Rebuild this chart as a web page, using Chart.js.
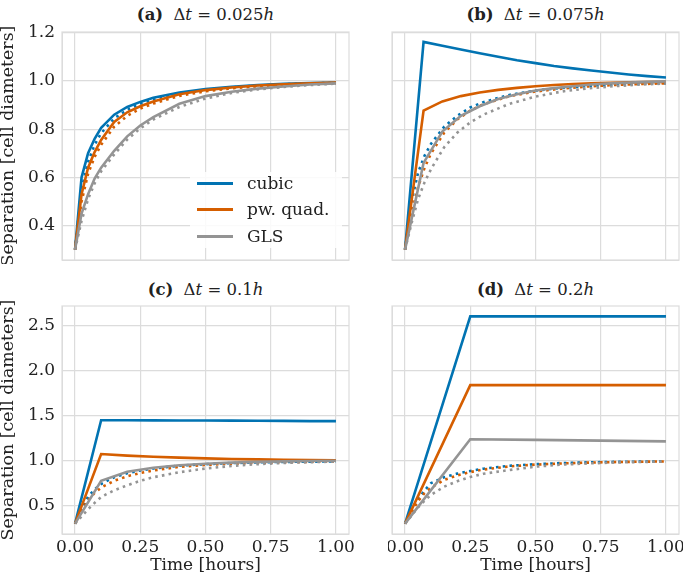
<!DOCTYPE html>
<html lang="en">
<head>
<meta charset="UTF-8">
<title>Separation vs time</title>
<script src="https://cdn.jsdelivr.net/npm/chart.js"></script>
<style>
  body { margin: 0; background: #fff; width: 685px; height: 584px; position: relative; overflow: hidden;
         font-family: 'DejaVu Serif', serif; color: #222; }
  canvas { position: absolute; }
  .ptitle { position: absolute; width: 287px; text-align: center; font-size: 16.5px; line-height: 20px; white-space: nowrap; }
  .ptitle b { margin-right: 5px; }
  .legend { position: absolute; left: 190px; top: 172px; width: 152px; height: 76px;
            background: rgba(255,255,255,0.85); border-radius: 4px; font-size: 17px; }
  .legend .row { position: absolute; left: 7px; height: 20px; line-height: 20px; }
  .legend .sw { position: absolute; left: 0; top: 9px; width: 36px; height: 3px; }
  .legend .lb { position: absolute; left: 50px; top: 0; white-space: nowrap; }
</style>
</head>
<body>
<div class="ptitle" style="left:62px; top:5px;"><b>(a)</b> Δ<i>t</i> = 0.025<i>h</i></div>
<div class="ptitle" style="left:392px; top:5px;"><b>(b)</b> Δ<i>t</i> = 0.075<i>h</i></div>
<div class="ptitle" style="left:62px; top:280px;"><b>(c)</b> Δ<i>t</i> = 0.1<i>h</i></div>
<div class="ptitle" style="left:392px; top:280px;"><b>(d)</b> Δ<i>t</i> = 0.2<i>h</i></div>

<canvas id="chartA" width="352" height="246" style="left:0; top:18px;"></canvas>
<canvas id="chartB" width="295" height="236" style="left:388px; top:28px;"></canvas>
<canvas id="chartC" width="362" height="292" style="left:0; top:292px;"></canvas>
<canvas id="chartD" width="295" height="282" style="left:388px; top:302px;"></canvas>

<div class="legend">
  <div class="row" style="top:1px;"><div class="sw" style="background:#0173B2"></div><div class="lb">cubic</div></div>
  <div class="row" style="top:27px;"><div class="sw" style="background:#D55E00"></div><div class="lb">pw. quad.</div></div>
  <div class="row" style="top:54px;"><div class="sw" style="background:#949494"></div><div class="lb">GLS</div></div>
</div>

<script>
// tick labels
const xTicks = [0, 0.25, 0.5, 0.75, 1.0];
const yTicksTop = [0.4, 0.6, 0.8, 1.0, 1.2];
const yTicksBottom = [0.5, 1.0, 1.5, 2.0, 2.5];

// time grids
const tFine = [0, 0.025, 0.05, 0.075, 0.1, 0.15, 0.2, 0.25, 0.3, 0.4, 0.5, 0.6, 0.7, 0.8, 0.9, 1.0];
const tB = [0, 0.071, 0.143, 0.214, 0.286, 0.357, 0.429, 0.5, 0.571, 0.643, 0.714, 0.786, 0.857, 0.929, 1.0];
const tC = [0, 0.1, 0.2, 0.3, 0.4, 0.5, 0.6, 0.7, 0.8, 0.9, 1.0];
const tD = [0, 0.25, 0.5, 0.75, 1.0];

// (a) dt = 0.025h
const aCubic    = [0.3, 0.6, 0.70, 0.76, 0.805, 0.86, 0.892, 0.913, 0.93, 0.952, 0.966, 0.976, 0.983, 0.988, 0.991, 0.993];
const aQuad     = [0.3, 0.53, 0.64, 0.705, 0.755, 0.83, 0.87, 0.895, 0.915, 0.945, 0.962, 0.973, 0.981, 0.986, 0.99, 0.993];
const aGls      = [0.3, 0.45, 0.53, 0.595, 0.64, 0.71, 0.77, 0.815, 0.85, 0.905, 0.937, 0.955, 0.968, 0.977, 0.985, 0.99];
const aCubicDot = [0.3, 0.55, 0.665, 0.735, 0.783, 0.845, 0.88, 0.905, 0.922, 0.947, 0.962, 0.973, 0.981, 0.986, 0.99, 0.992];
const aQuadDot  = [0.3, 0.5, 0.615, 0.685, 0.735, 0.81, 0.855, 0.885, 0.906, 0.938, 0.957, 0.969, 0.978, 0.984, 0.988, 0.991];
const aGlsDot   = [0.3, 0.42, 0.51, 0.575, 0.625, 0.695, 0.757, 0.803, 0.84, 0.892, 0.927, 0.95, 0.965, 0.975, 0.983, 0.989];

// (b) dt = 0.075h
const bCubic    = [0.3, 1.162, 1.146, 1.13, 1.115, 1.1, 1.086, 1.074, 1.062, 1.052, 1.043, 1.035, 1.027, 1.02, 1.014];
const bQuad     = [0.3, 0.877, 0.915, 0.937, 0.952, 0.963, 0.971, 0.978, 0.983, 0.987, 0.99, 0.992, 0.994, 0.995, 0.996];
const bGls      = [0.3, 0.66, 0.79, 0.855, 0.895, 0.925, 0.945, 0.96, 0.97, 0.978, 0.985, 0.99, 0.993, 0.996, 0.998];
const bCubicDot = [0.3, 0.5, 0.62, 0.69, 0.74, 0.81, 0.855, 0.89, 0.912, 0.942, 0.96, 0.971, 0.979, 0.985, 0.988, 0.99];
const bQuadDot  = [0.3, 0.45, 0.56, 0.64, 0.7, 0.785, 0.84, 0.877, 0.903, 0.937, 0.956, 0.968, 0.977, 0.983, 0.987, 0.99];
const bGlsDot   = [0.3, 0.41, 0.51, 0.58, 0.635, 0.725, 0.785, 0.828, 0.86, 0.905, 0.935, 0.956, 0.969, 0.978, 0.985, 0.989];

// (c) dt = 0.1h
const cCubic    = [0.3, 1.448, 1.447, 1.446, 1.445, 1.444, 1.443, 1.441, 1.44, 1.438, 1.437];
const cQuad     = [0.3, 1.072, 1.055, 1.042, 1.032, 1.024, 1.018, 1.013, 1.009, 1.006, 1.004];
const cGls      = [0.3, 0.775, 0.875, 0.92, 0.948, 0.965, 0.977, 0.985, 0.991, 0.995, 0.998];
const cCubicDot = [0.3, 0.47, 0.6, 0.68, 0.74, 0.815, 0.86, 0.89, 0.912, 0.943, 0.96, 0.972, 0.98, 0.985, 0.988, 0.99];
const cQuadDot  = [0.3, 0.44, 0.56, 0.64, 0.7, 0.775, 0.825, 0.862, 0.89, 0.93, 0.952, 0.966, 0.975, 0.982, 0.986, 0.99];
const cGlsDot   = [0.3, 0.38, 0.46, 0.53, 0.596, 0.67, 0.725, 0.775, 0.815, 0.87, 0.912, 0.94, 0.96, 0.973, 0.982, 0.988];

// (d) dt = 0.2h
const dCubic    = [0.3, 2.6, 2.6, 2.6, 2.6];
const dQuad     = [0.3, 1.837, 1.837, 1.837, 1.837];
const dGls      = [0.3, 1.237, 1.229, 1.221, 1.213];
const dCubicDot = [0.3, 0.45, 0.57, 0.67, 0.75, 0.815, 0.855, 0.885, 0.91, 0.942, 0.96, 0.972, 0.98, 0.985, 0.988, 0.99];
const dQuadDot  = [0.3, 0.43, 0.55, 0.64, 0.7, 0.785, 0.835, 0.872, 0.9, 0.935, 0.955, 0.968, 0.977, 0.983, 0.987, 0.99];
const dGlsDot   = [0.3, 0.39, 0.48, 0.555, 0.62, 0.71, 0.77, 0.818, 0.853, 0.895, 0.932, 0.955, 0.968, 0.978, 0.984, 0.988];

const BLUE = '#0173B2', ORANGE = '#D55E00', GRAY = '#949494', GRID = '#dcdcdc';

Chart.defaults.font.family = "'DejaVu Serif', serif";
Chart.defaults.font.size = 17;
Chart.defaults.color = '#222';

function pts(t, v) { return t.map((x, i) => ({ x: x, y: v[i] })); }

function line(t, v, color, dotted) {
    return {
        data: pts(t, v),
        borderColor: color,
        borderWidth: 2.6,
        borderDash: dotted ? [2.6, 4.2] : [],
        pointRadius: 0,
        tension: 0,
        fill: false
    };
}

// light frame around each plot area
const framePlugin = {
    id: 'frame',
    afterDatasetsDraw(chart) {
        const { ctx, chartArea: a } = chart;
        ctx.save();
        ctx.strokeStyle = GRID;
        ctx.lineWidth = 1.2;
        ctx.strokeRect(a.left, a.top, a.right - a.left, a.bottom - a.top);
        ctx.restore();
    }
};

// stop label overflow from shrinking the plot area; the canvases leave room themselves
function noPad(sc) {
    sc.paddingTop = 0; sc.paddingBottom = 0; sc.paddingLeft = 0; sc.paddingRight = 0;
}

// pad = [top, right, bottom, left] around the plot area inside the canvas
function panel(id, s, yTicks, yMin, yMax, left, bottom, pad) {
    new Chart(document.getElementById(id), {
        type: 'line',
        data: {
            datasets: [
                line(s.tSolid, s.gls, GRAY, false),
                line(tFine, s.glsDot, GRAY, true),
                line(s.tSolid, s.quad, ORANGE, false),
                line(tFine, s.quadDot, ORANGE, true),
                line(s.tSolid, s.cubic, BLUE, false),
                line(tFine, s.cubicDot, BLUE, true)
            ]
        },
        options: {
            responsive: false,
            devicePixelRatio: 1,
            animation: false,
            layout: { autoPadding: false, padding: { top: pad[0], right: pad[1], bottom: pad[2], left: pad[3] } },
            plugins: { legend: { display: false }, tooltip: { enabled: false } },
            scales: {
                x: {
                    type: 'linear',
                    min: -0.05, max: 1.05,
                    afterBuildTicks: sc => { sc.ticks = xTicks.map(v => ({ value: v })); },
                    afterFit: sc => { sc.height = bottom ? 50 : 0; noPad(sc); },
                    grid: { color: GRID, lineWidth: 1.2, drawTicks: false },
                    border: { color: GRID },
                    ticks: { display: bottom, padding: 3, maxRotation: 0, callback: v => v.toFixed(2) },
                    title: { display: bottom, text: 'Time [hours]', padding: { top: 0, bottom: 8 } }
                },
                y: {
                    min: yMin, max: yMax,
                    afterBuildTicks: sc => { sc.ticks = yTicks.map(v => ({ value: v })); },
                    afterFit: sc => { sc.width = left ? 62 : 0; noPad(sc); },
                    grid: { color: GRID, lineWidth: 1.2, drawTicks: false },
                    border: { color: GRID },
                    ticks: { display: left, padding: 7, callback: v => v.toFixed(1) },
                    title: { display: left, text: 'Separation [cell diameters]', padding: 0, font: { size: 17.4, lineHeight: 1 } }
                }
            }
        },
        plugins: [framePlugin]
    });
}

panel('chartA', { tSolid: tFine, cubic: aCubic, quad: aQuad, gls: aGls, cubicDot: aCubicDot, quadDot: aQuadDot, glsDot: aGlsDot },
      yTicksTop, 0.257, 1.203, true, false, [14, 3, 4, 0]);
panel('chartB', { tSolid: tB, cubic: bCubic, quad: bQuad, gls: bGls, cubicDot: bCubicDot, quadDot: bQuadDot, glsDot: bGlsDot },
      yTicksTop, 0.257, 1.203, false, false, [4, 4, 4, 4]);
panel('chartC', { tSolid: tC, cubic: cCubic, quad: cQuad, gls: cGls, cubicDot: cCubicDot, quadDot: cQuadDot, glsDot: cGlsDot },
      yTicksBottom, 0.185, 2.715, true, true, [14, 13, 0, 0]);
panel('chartD', { tSolid: tD, cubic: dCubic, quad: dQuad, gls: dGls, cubicDot: dCubicDot, quadDot: dQuadDot, glsDot: dGlsDot },
      yTicksBottom, 0.185, 2.715, false, true, [4, 4, 0, 4]);
</script>
</body>
</html>
